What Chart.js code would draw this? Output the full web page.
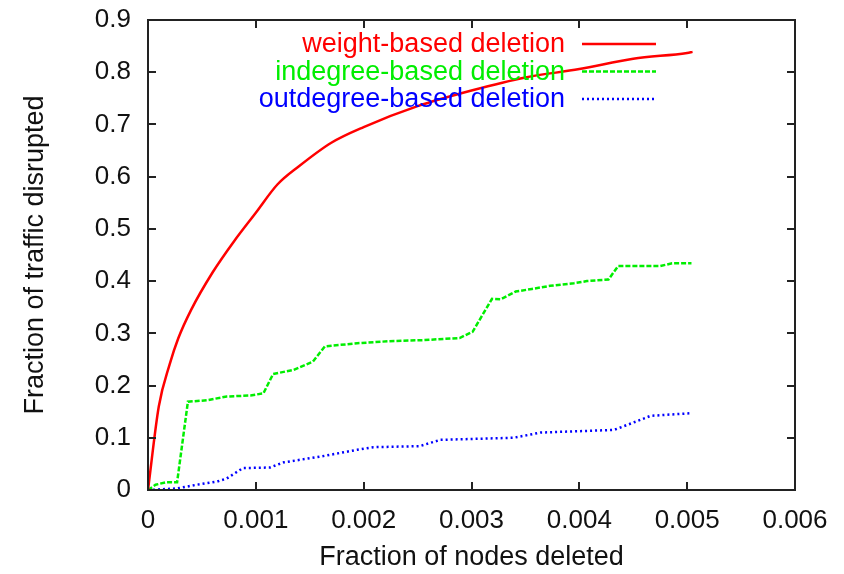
<!DOCTYPE html>
<html>
<head>
<meta charset="utf-8">
<script src="https://cdn.jsdelivr.net/npm/chart.js@4"></script>
<style>
  html, body { margin: 0; padding: 0; background: #fff; }
  #wrap { width: 844px; height: 574px; }
</style>
</head>
<body>
<div id="wrap"><canvas id="chart"></canvas></div>
<script>
// tick values
var xTicks = [0, 0.001, 0.002, 0.003, 0.004, 0.005, 0.006];
var yTicks = [0, 0.1, 0.2, 0.3, 0.4, 0.5, 0.6, 0.7, 0.8, 0.9];

// series names
var seriesNames = ['weight-based deletion', 'indegree-based deletion', 'outdegree-based deletion'];

// weight-based deletion
var weightX = [0, 0.0001, 0.0002, 0.00028, 0.0004, 0.0006, 0.0008, 0.001, 0.0012, 0.0014, 0.0017, 0.002, 0.0025, 0.003, 0.0035, 0.004, 0.0045, 0.005, 0.00505];
var weightY = [0, 0.16, 0.24, 0.29, 0.345, 0.417, 0.477, 0.531, 0.585, 0.620, 0.665, 0.695, 0.735, 0.765, 0.790, 0.806, 0.826, 0.837, 0.839];

// indegree-based deletion
var inX = [0, 0.00007, 0.00017, 0.00027, 0.00037, 0.00055, 0.00073, 0.00095, 0.00107, 0.00116, 0.00135, 0.00153, 0.00164, 0.00194, 0.00224, 0.00255, 0.00289, 0.00301, 0.00319, 0.00327, 0.00341, 0.00356, 0.00373, 0.00395, 0.00407, 0.00427, 0.00436, 0.00475, 0.00486, 0.00504];
var inY = [0, 0.010, 0.015, 0.015, 0.169, 0.172, 0.179, 0.181, 0.185, 0.222, 0.230, 0.246, 0.275, 0.281, 0.285, 0.287, 0.291, 0.303, 0.366, 0.365, 0.380, 0.385, 0.391, 0.396, 0.400, 0.403, 0.429, 0.429, 0.434, 0.434];

// outdegree-based deletion
var outX = [0, 0.00027, 0.00045, 0.00064, 0.00073, 0.00088, 0.00113, 0.00126, 0.0016, 0.00194, 0.00209, 0.00252, 0.00271, 0.00339, 0.00364, 0.00432, 0.0045, 0.00466, 0.00503];
var outY = [0, 0.003, 0.010, 0.016, 0.022, 0.042, 0.043, 0.053, 0.064, 0.077, 0.082, 0.084, 0.096, 0.100, 0.110, 0.115, 0.129, 0.142, 0.147];

function toPoints(xs, ys) {
    return xs.map(function(x, i) { return { x: x, y: ys[i] }; });
}

var FONT = '"Liberation Sans", Arial, Helvetica, sans-serif';

// gnuplot style frame with inward ticks on all four sides
var framePlugin = {
    id: 'frame',
    afterDatasetsDraw: function(chart) {
        var ctx = chart.ctx;
        var a = chart.chartArea;
        var xs = chart.scales.x, ys = chart.scales.y;
        var len = 8;
        ctx.save();
        ctx.strokeStyle = '#222';
        ctx.lineWidth = 2;
        ctx.beginPath();
        xTicks.forEach(function(v) {
            var px = Math.round(xs.getPixelForValue(v));
            ctx.moveTo(px, a.bottom); ctx.lineTo(px, a.bottom - len);
            ctx.moveTo(px, a.top); ctx.lineTo(px, a.top + len);
        });
        yTicks.forEach(function(v) {
            var py = Math.round(ys.getPixelForValue(v));
            ctx.moveTo(a.left, py); ctx.lineTo(a.left + len, py);
            ctx.moveTo(a.right, py); ctx.lineTo(a.right - len, py);
        });
        ctx.stroke();
        ctx.strokeRect(a.left, a.top, a.right - a.left, a.bottom - a.top);
        ctx.restore();
    }
};

// legend: right aligned text with line sample on its right
var keyPlugin = {
    id: 'key',
    afterDatasetsDraw: function(chart) {
        var ctx = chart.ctx;
        var a = chart.chartArea;
        var textRight = a.right - 230;
        var lineStart = a.right - 213;
        var lineEnd = a.right - 139;
        ctx.save();
        ctx.font = '27px ' + FONT;
        ctx.textAlign = 'right';
        ctx.textBaseline = 'middle';
        chart.data.datasets.forEach(function(ds, i) {
            var y = a.top + 25 + i * 27.5;
            ctx.fillStyle = ds.borderColor;
            ctx.fillText(ds.label, textRight, y);
            ctx.strokeStyle = ds.borderColor;
            ctx.lineWidth = ds.borderWidth;
            ctx.setLineDash(ds.borderDash || []);
            ctx.beginPath();
            ctx.moveTo(lineStart, y - 1);
            ctx.lineTo(lineEnd, y - 1);
            ctx.stroke();
        });
        ctx.restore();
    }
};

new Chart(document.getElementById('chart'), {
    type: 'line',
    data: {
        datasets: [{
            label: seriesNames[0],
            data: toPoints(weightX, weightY),
            borderColor: '#ff0000',
            borderWidth: 2.5,
            cubicInterpolationMode: 'monotone',
            pointRadius: 0
        }, {
            label: seriesNames[1],
            data: toPoints(inX, inY),
            borderColor: '#00ee00',
            borderWidth: 2.5,
            borderDash: [5, 2],
            tension: 0,
            pointRadius: 0
        }, {
            label: seriesNames[2],
            data: toPoints(outX, outY),
            borderColor: '#0000ff',
            borderWidth: 2.5,
            borderDash: [2, 3],
            tension: 0,
            pointRadius: 0
        }]
    },
    options: {
        responsive: true,
        maintainAspectRatio: false,
        animation: false,
        layout: {
            padding: { left: 0, top: 20, right: 49, bottom: 0 }
        },
        plugins: {
            legend: { display: false },
            tooltip: { enabled: false }
        },
        scales: {
            x: {
                type: 'linear',
                min: 0,
                max: 0.006,
                afterBuildTicks: function(scale) {
                    scale.ticks = xTicks.map(function(v) { return { value: v }; });
                },
                afterFit: function(scale) {
                    scale.height = 84;
                    scale.paddingLeft = 0;
                    scale.paddingRight = 0;
                },
                grid: { display: false, drawTicks: false },
                border: { display: false },
                ticks: {
                    padding: 15,
                    maxRotation: 0,
                    color: '#111',
                    font: { family: FONT, size: 26 },
                    callback: function(value) {
                        return value === 0 ? '0' : value.toFixed(3);
                    }
                },
                title: {
                    display: true,
                    text: 'Fraction of nodes deleted',
                    color: '#111',
                    padding: { top: 0, bottom: 0 },
                    font: { family: FONT, size: 27 }
                }
            },
            y: {
                type: 'linear',
                min: 0,
                max: 0.9,
                afterBuildTicks: function(scale) {
                    scale.ticks = yTicks.map(function(v) { return { value: v }; });
                },
                afterFit: function(scale) {
                    scale.width = 148;
                    scale.paddingTop = 0;
                    scale.paddingBottom = 0;
                },
                grid: { display: false, drawTicks: false },
                border: { display: false },
                ticks: {
                    padding: 17,
                    color: '#111',
                    font: { family: FONT, size: 26 },
                    callback: function(value) {
                        return value === 0 ? '0' : value.toFixed(1);
                    }
                },
                title: {
                    display: true,
                    text: 'Fraction of traffic disrupted',
                    color: '#111',
                    padding: { top: 19, bottom: 0 },
                    font: { family: FONT, size: 27 }
                }
            }
        }
    },
    plugins: [framePlugin, keyPlugin]
});
</script>
</body>
</html>
